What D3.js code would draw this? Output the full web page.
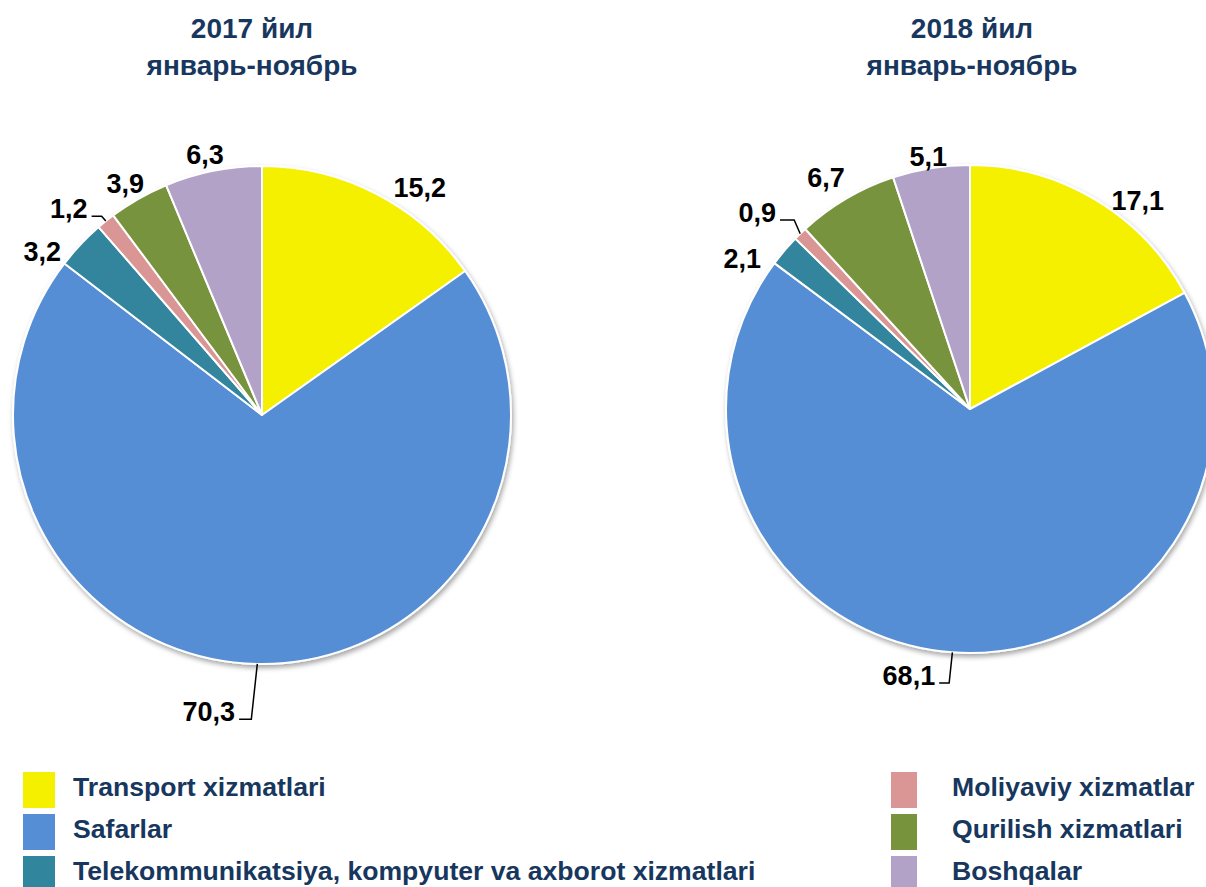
<!DOCTYPE html>
<html>
<head>
<meta charset="utf-8">
<script src="https://cdn.jsdelivr.net/npm/d3@7"></script>
<style>
  html, body { margin: 0; padding: 0; background: #fff; overflow: hidden; }
  svg { display: block; font-family: "Liberation Sans", Arial, sans-serif; }
</style>
</head>
<body>
<svg id="chart" width="1206" height="887"></svg>
<script>
// ---- data ----
const categories = [
  "Transport xizmatlari",
  "Safarlar",
  "Telekommunikatsiya, kompyuter va axborot xizmatlari",
  "Moliyaviy xizmatlar",
  "Qurilish xizmatlari",
  "Boshqalar"
];
const values2017 = [15.2, 70.3, 3.2, 1.2, 3.9, 6.3];
const values2018 = [17.1, 68.1, 2.1, 0.9, 6.7, 5.1];
const labels2017 = ["15,2", "70,3", "3,2", "1,2", "3,9", "6,3"];
const labels2018 = ["17,1", "68,1", "2,1", "0,9", "6,7", "5,1"];
const title2017 = ["2017 йил", "январь-ноябрь"];
const title2018 = ["2018 йил", "январь-ноябрь"];
const colors = ["#F5EF00", "#558ED5", "#31859C", "#D99694", "#77933C", "#B3A2C7"];

// ---- layout ----
const navy = "#17375E";
const leaderIdx = [1, 3];
const pies = [
  { values: values2017, labels: labels2017, title: title2017, cx: 262, cy: 415, r: 249, tx: 252,
    nudgeA: [7.4, 9.1, -6.6, -4.2, -0.9, -1.0], nudgeR: [28, 52, 25, 34, 20, 18] },
  { values: values2018, labels: labels2018, title: title2018, cx: 970, cy: 409, r: 244, tx: 972,
    nudgeA: [8.0, 8.8, -7.0, -3.1, -1.4, -0.2], nudgeR: [24, 29, 29, 46, 29, 12] }
];

const svg = d3.select("#chart");
const defs = svg.append("defs");
const f = defs.append("filter").attr("id", "shadow")
  .attr("x", "-10%").attr("y", "-10%").attr("width", "120%").attr("height", "120%");
f.append("feDropShadow").attr("dx", 1.5).attr("dy", 3).attr("stdDeviation", 2.5)
  .attr("flood-color", "#000").attr("flood-opacity", 0.35);

const pieGen = d3.pie().sort(null).value(d => d);

pies.forEach(p => {
  const arcs = pieGen(p.values);
  const arc = d3.arc().innerRadius(0).outerRadius(p.r);
  const g = svg.append("g").attr("transform", `translate(${p.cx},${p.cy})`);

  g.append("g").attr("filter", "url(#shadow)")
    .selectAll("path").data(arcs).join("path")
    .attr("d", arc)
    .attr("fill", (d, i) => colors[i])
    .attr("stroke", "#fff").attr("stroke-width", 2).attr("stroke-linejoin", "round");

  // title
  svg.append("text").attr("x", p.tx).attr("y", 38)
    .attr("text-anchor", "middle").attr("font-size", 28).attr("font-weight", "bold")
    .attr("fill", navy).text(p.title[0]);
  svg.append("text").attr("x", p.tx).attr("y", 75)
    .attr("text-anchor", "middle").attr("font-size", 28).attr("font-weight", "bold")
    .attr("fill", navy).text(p.title[1]);

  // labels
  arcs.forEach((d, i) => {
    const mid = (d.startAngle + d.endAngle) / 2;
    const a = mid + p.nudgeA[i] * Math.PI / 180;
    const rr = p.r + p.nudgeR[i];
    const x = rr * Math.sin(a), y = -rr * Math.cos(a);
    const t = g.append("text").attr("x", x).attr("y", y).attr("dy", "0.36em")
      .attr("text-anchor", "middle").attr("font-size", 27).attr("font-weight", "bold")
      .attr("fill", "#000").text(p.labels[i]);
    if (leaderIdx.includes(i)) {
      const w = t.node().getComputedTextLength();
      const ax = p.r * Math.sin(mid), ay = -p.r * Math.cos(mid);
      const ly = y + 8;
      const x0 = x + w / 2 + 4, x1 = Math.max(x + w / 2 + 14, ax - 6);
      g.append("path")
        .attr("d", `M${x0},${ly}H${x1}L${ax},${ay}`)
        .attr("fill", "none").attr("stroke", "#000").attr("stroke-width", 1.5);
    }
  });
});

// legend
const legendCols = [
  { items: [0, 1, 2], sx: 23, sw: 32, tx: 73 },
  { items: [3, 4, 5], sx: 891, sw: 26, tx: 952 }
];
legendCols.forEach(c => {
  c.items.forEach((idx, k) => {
    const y0 = 772 + k * 42;
    svg.append("rect").attr("x", c.sx).attr("y", y0).attr("width", c.sw).attr("height", 36)
      .attr("fill", colors[idx]);
    svg.append("text").attr("x", c.tx).attr("y", y0 + 24)
      .attr("font-size", 26.6).attr("font-weight", "bold").attr("fill", navy)
      .text(categories[idx]);
  });
});
</script>
</body>
</html>
